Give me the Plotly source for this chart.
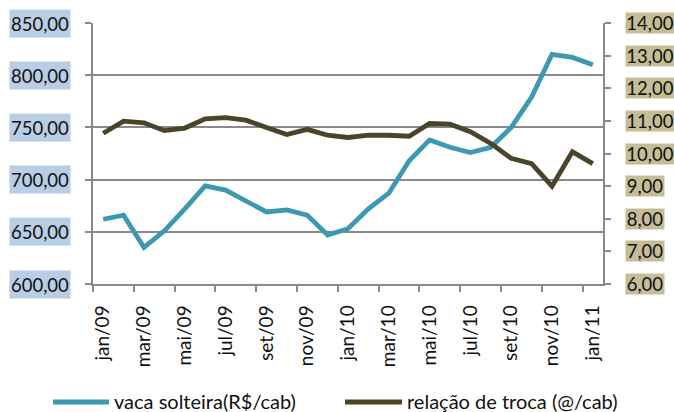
import plotly.graph_objects as go

months = ["jan/09", "fev/09", "mar/09", "abr/09", "mai/09", "jun/09", "jul/09", "ago/09",
          "set/09", "out/09", "nov/09", "dez/09", "jan/10", "fev/10", "mar/10", "abr/10",
          "mai/10", "jun/10", "jul/10", "ago/10", "set/10", "out/10", "nov/10", "dez/10", "jan/11"]
vaca_solteira = [662, 666, 635, 651, 672, 694, 690, 679, 669, 671, 666, 647, 653,
                 672, 687, 718, 738, 731, 726, 731, 750, 779, 820, 817, 810]
relacao_troca = [10.62, 10.99, 10.94, 10.70, 10.78, 11.06, 11.10, 11.02, 10.80, 10.58, 10.74,
                 10.56, 10.49, 10.56, 10.56, 10.53, 10.92, 10.90, 10.67, 10.31, 9.85, 9.69,
                 9.00, 10.05, 9.69]
left_ticks = [600, 650, 700, 750, 800, 850]
right_ticks = [6, 7, 8, 9, 10, 11, 12, 13, 14]
series_names = ["vaca solteira(R$/cab)", "relação de troca (@/cab)"]

BLUE = "#3F98B1"
DARK = "#4A4429"
GRID = "#8A8A8A"
FONT = "Lato"

W, H = 674, 412
ML, MR, MT, MB = 93, 71, 23, 128
PW, PH = W - ML - MR, H - MT - MB


def px_x(p):
    return (p - ML) / PW


def px_y(p):
    return (H - MB - p) / PH


x = list(range(len(months)))

fig = go.Figure()
fig.add_trace(go.Scatter(x=x, y=vaca_solteira, mode="lines", name=series_names[0],
                         line=dict(color=BLUE, width=4.8), yaxis="y"))
fig.add_trace(go.Scatter(x=x, y=relacao_troca, mode="lines", name=series_names[1],
                         line=dict(color=DARK, width=4.8), yaxis="y2"))


def fmt(v):
    return f"{v:.2f}".replace(".", ",")


annotations = []
for v in left_ticks:
    annotations.append(dict(xref="paper", yref="y", x=px_x(71), y=v, xanchor="right", yanchor="middle",
                            text=fmt(v), showarrow=False, bgcolor="#B9CDE5",
                            width=60, height=27, borderpad=0,
                            font=dict(family=FONT, size=18.5, color="#111")))
for v in right_ticks:
    t = fmt(v)
    annotations.append(dict(xref="paper", yref="y2", x=px_x(625), y=v, xanchor="left", yanchor="middle",
                            text=t, showarrow=False, bgcolor="#C4BD97",
                            width=10 * len(t) - 2, height=20, borderpad=0,
                            font=dict(family=FONT, size=18.5, color="#111")))

# custom legend (long line samples as in the reference)
shapes = []
legend_items = [(series_names[0], BLUE, 53, 109, 112), (series_names[1], DARK, 345, 402, 405)]
for name, col, x0, x1, tx in legend_items:
    shapes.append(dict(type="line", xref="paper", yref="paper", x0=px_x(x0), x1=px_x(x1),
                       y0=px_y(402), y1=px_y(402), line=dict(color=col, width=5)))
    annotations.append(dict(xref="paper", yref="paper", x=px_x(tx), y=px_y(401), xanchor="left",
                            yanchor="middle", text=name, showarrow=False, height=22,
                            font=dict(family=FONT, size=20, color="#111")))

fig.update_layout(
    width=W, height=H,
    margin=dict(l=ML, r=MR, t=MT, b=MB, autoexpand=False),
    paper_bgcolor="white", plot_bgcolor="white",
    font=dict(family=FONT, size=19, color="#111"),
    showlegend=False,
    xaxis=dict(range=[-0.5, 24.5], tickmode="array", tickvals=x[::2], ticktext=months[::2],
               tickangle=-90, ticks="", showline=True, linecolor=GRID, linewidth=1.5,
               showgrid=False, zeroline=False, ticklabelstandoff=12, automargin=False,
               minor=dict(tick0=-0.5, dtick=2, ticks="outside", ticklen=6, tickcolor=GRID,
                          tickwidth=1.5, showgrid=False),
               tickfont=dict(family=FONT, size=19, color="#111")),
    yaxis=dict(range=[600, 850], tickvals=left_ticks, showticklabels=False, ticks="outside",
               ticklen=6, tickcolor=GRID, tickwidth=1.5, showline=True, linecolor=GRID,
               linewidth=1.5, showgrid=True, gridcolor=GRID, gridwidth=1.5, zeroline=False,
               automargin=False),
    yaxis2=dict(range=[6, 14], tickvals=right_ticks, showticklabels=False, ticks="outside",
                ticklen=6, tickcolor=GRID, tickwidth=1.5, showline=True, linecolor=GRID,
                linewidth=1.5, showgrid=False, zeroline=False, overlaying="y", side="right",
                automargin=False),
    annotations=annotations,
    shapes=shapes,
)

fig.write_html("out.html", post_script="document.body.style.margin='0';",
               config={"displayModeBar": False})
